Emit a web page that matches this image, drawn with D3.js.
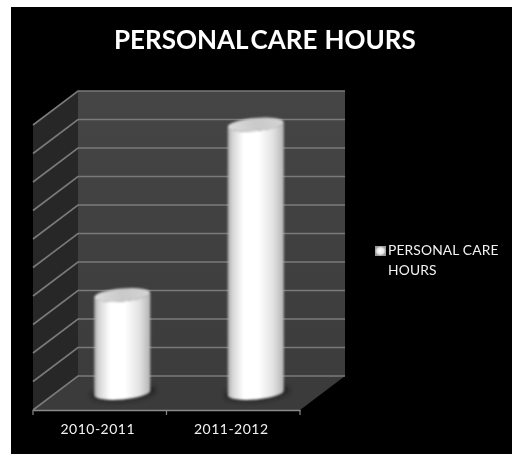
<!DOCTYPE html>
<html><head><meta charset="utf-8">
<script src="https://cdn.jsdelivr.net/npm/d3@7/dist/d3.min.js"></script>
<style>html,body{margin:0;padding:0;background:#fff}svg{display:block}</style>
</head><body><svg id="c" width="512" height="454"></svg>
<script>
const categories = ["2010-2011", "2011-2012"];
const values = [3.44, 9.42];
const gridTicks = [0,1,2,3,4,5,6,7,8,9,10];
const titleWords = ["PERSONAL", "CARE", "HOURS"];
const legendLines = ["PERSONAL CARE", "HOURS"];

const svg = d3.select("#c");
const W = 512, H = 454;
const depthX = 45, depthY = -34;
const x = d3.scaleBand().domain(categories).range([33, 300]);
const y = d3.scaleLinear().domain([0, 10]).range([410, 125]);

const defs = svg.append("defs");
const body = defs.append("linearGradient").attr("id", "body");
[[0,"#a8a8a8"],[0.08,"#d4d4d4"],[0.28,"#ffffff"],[0.55,"#ffffff"],[0.82,"#e0e0e0"],[1,"#b4b4b4"]]
  .forEach(s => body.append("stop").attr("offset", s[0]).attr("stop-color", s[1]));
const top_ = defs.append("linearGradient").attr("id", "topg");
[[0,"#dcdcdc"],[0.5,"#c9c9c9"],[1,"#d4d4d4"]]
  .forEach(s => top_.append("stop").attr("offset", s[0]).attr("stop-color", s[1]));
const wall = defs.append("linearGradient").attr("id", "wall").attr("x2",0).attr("y2",1);
[[0,"#454545"],[1,"#3c3c3c"]].forEach(s => wall.append("stop").attr("offset", s[0]).attr("stop-color", s[1]));
const sw = defs.append("radialGradient").attr("id", "sw");
[[0,"#ffffff"],[0.6,"#e8e8e8"],[1,"#9a9a9a"]].forEach(s => sw.append("stop").attr("offset", s[0]).attr("stop-color", s[1]));
defs.append("filter").attr("id","soft").attr("x","-10%").attr("y","-10%").attr("width","120%").attr("height","120%")
  .append("feGaussianBlur").attr("stdDeviation",0.8);
defs.append("filter").attr("id","shadow").attr("x","-30%").attr("y","-100%").attr("width","160%").attr("height","300%")
  .append("feGaussianBlur").attr("stdDeviation",2);
defs.append("filter").attr("id","line").append("feGaussianBlur").attr("stdDeviation",0.5);
defs.append("filter").attr("id","text").append("feGaussianBlur").attr("stdDeviation",0.25);

svg.append("rect").attr("x",11).attr("y",7).attr("width",W-11).attr("height",H-7).attr("fill","#000");

const [x0, x1] = x.range();
const yBase = y(0), yTop = y(10);
const poly = pts => "M" + pts.map(p => p.join(",")).join("L") + "Z";

// walls & floor
svg.append("path").attr("d", poly([[x0+depthX,yTop+depthY],[x1+depthX,yTop+depthY],[x1+depthX,yBase+depthY],[x0+depthX,yBase+depthY]])).attr("fill","url(#wall)");
svg.append("path").attr("d", poly([[x0,yTop],[x0+depthX,yTop+depthY],[x0+depthX,yBase+depthY],[x0,yBase]])).attr("fill","#272727");
svg.append("path").attr("d", poly([[x0,yBase],[x0+depthX,yBase+depthY],[x1+depthX,yBase+depthY],[x1,yBase]])).attr("fill","#3b3b3b");

// gridlines
const g = svg.append("g").attr("fill","none").attr("stroke","#7a7a7a").attr("stroke-width",1.6).attr("filter","url(#line)");
g.selectAll("path").data(gridTicks).join("path")
  .attr("d", t => `M${x0},${y(t)}L${x0+depthX},${y(t)+depthY}L${x1+depthX},${y(t)+depthY}`);

// axis
const axis = d3.axisBottom(x).tickSize(0).tickPadding(14);
const ax = svg.append("g").attr("transform",`translate(0,${yBase})`).call(axis);
ax.select(".domain").attr("stroke","#8a8a8a").attr("stroke-width",1.4);
ax.selectAll("text").attr("fill","#f2f2f2").attr("font-family","Lato, sans-serif").attr("font-size",14).attr("letter-spacing",0.5)
  .attr("dx",-2).attr("filter","url(#text)");
const edges = [x0, x0 + x.step(), x1];
ax.selectAll("line.edge").data(edges).join("line").attr("class","edge")
  .attr("x1",d=>d).attr("x2",d=>d).attr("y1",0).attr("y2",5).attr("stroke","#8a8a8a").attr("stroke-width",1.2);

// cylinders
const rx = 28, ry = 6.5, tilt = -5;
const lift = 2.5;
const bars = svg.append("g").selectAll("g").data(categories).join("g");
bars.each(function(c,i){
  const sel = d3.select(this);
  const cx = x(c) + x.bandwidth()/2 + depthX/2;
  const yb = y(0) + depthY/2;
  const yt = y(values[i]) + depthY/2;
  sel.append("ellipse").attr("cx",cx+1).attr("cy",yb).attr("rx",rx+5).attr("ry",ry+2)
     .attr("fill","#1c1c1c").attr("opacity",0.7).attr("filter","url(#shadow)")
     .attr("transform",`rotate(${tilt} ${cx} ${yb})`);
  const inner = sel.append("g").attr("filter","url(#soft)");
  inner.append("path")
    .attr("d",`M${cx-rx},${yt+lift}L${cx-rx},${yb+lift}A${rx},${ry} ${tilt} 0 0 ${cx+rx},${yb-lift}L${cx+rx},${yt-lift}A${rx},${ry} ${tilt} 0 1 ${cx-rx},${yt+lift}Z`)
    .attr("fill","url(#body)");
  inner.append("ellipse").attr("cx",cx).attr("cy",yt).attr("rx",rx).attr("ry",ry)
    .attr("transform",`rotate(${tilt} ${cx} ${yt})`).attr("fill","url(#topg)");
});

// title
const title = svg.append("text").attr("x",114).attr("y",49)
  .attr("font-family","Lato, sans-serif").attr("font-weight",700).attr("font-size",26)
  .attr("fill","#fff").attr("filter","url(#text)");
title.selectAll("tspan").data(titleWords).join("tspan")
  .attr("dx",(d,i)=>[0,2.5,7][i]).text(d=>d);

// legend
svg.append("rect").attr("x",375).attr("y",246).attr("width",11).attr("height",10).attr("fill","url(#sw)");
svg.append("g").selectAll("text").data(legendLines).join("text")
  .attr("x",388).attr("y",(d,i)=>255+i*20)
  .attr("font-family","Lato, sans-serif").attr("font-size",13.8).attr("letter-spacing",0.15)
  .attr("fill","#f2f2f2").attr("filter","url(#text)").text(d=>d);
</script></body></html>
